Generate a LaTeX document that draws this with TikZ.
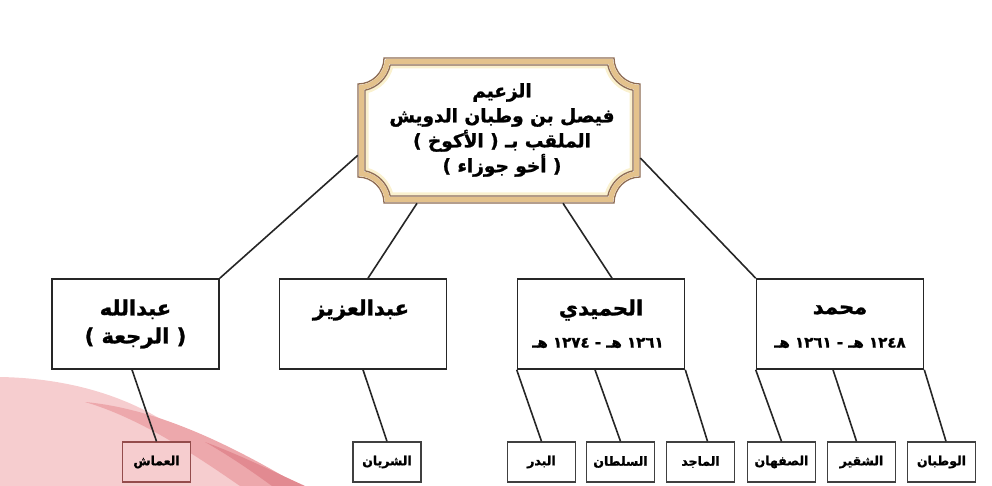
\documentclass[tikz,border=0pt]{standalone}
\usepackage{fontspec}
\newfontfamily\arabicfont[Script=Arabic, BoldFeatures={FakeBold=1.3}]{DejaVu Sans}
\TeXXeTstate=1
\newcommand{\ar}[1]{\beginR #1\endR}
\definecolor{framebrown}{HTML}{8C6A52}
\definecolor{framegold}{HTML}{E4C28C}
\definecolor{frameglow}{HTML}{FAF1CF}
\definecolor{pinklight}{HTML}{F6CDCF}
\definecolor{pinkmid}{HTML}{EDA8AC}
\definecolor{pinkdark}{HTML}{E28A91}

\begin{document}
\begin{tikzpicture}[
        x=1pt, y=-1pt,
        semithick,
        person/.style ={draw=black!85, line width=1.6pt, fill=white, minimum width=167pt, minimum height=90pt, inner sep=0pt},
        branchbox/.style ={draw=black!75, line width=1.3pt, fill=white, minimum width=68pt, minimum height=40pt, inner sep=0pt, font=\arabicfont\bfseries\fontsize{12.5}{14}\selectfont},
        sonname/.style ={font=\arabicfont\bfseries\fontsize{21}{28}\selectfont, align=center, inner sep=0pt},
        dates/.style ={font=\arabicfont\bfseries\fontsize{15}{17}\selectfont, inner sep=0pt},
        link/.style ={draw=black!85, line width=1.6pt},
    ]
    \useasboundingbox (0,0) rectangle (992,486);

    % pink waves in the corner
    \fill[pinklight] (0,377) .. controls (60,378) and (120,392) .. (170,425)
        .. controls (205,448) and (235,468) .. (262,486) -- (0,486) -- cycle;
    \fill[pinkmid] (85,402) .. controls (150,408) and (220,438) .. (300,486)
        -- (240,486) .. controls (195,455) and (140,418) .. (85,402) -- cycle;
    \fill[pinkdark] (205,442) .. controls (240,455) and (270,470) .. (305,486)
        -- (272,486) .. controls (250,470) and (228,455) .. (205,442) -- cycle;

    % the chief
    \node[minimum width=282pt, minimum height=145pt, inner sep=0pt] (chief) at (499,130.5) {};
    \foreach \d/\w/\c in {9/3/frameglow, 0/1.3/framebrown, 3.5/5/framegold, 7/1.3/framebrown} {
        \pgfmathsetmacro\R{26+\d}
        \pgfmathsetmacro\s{sqrt(\R*\R-\d*\d)}
        \pgfmathsetmacro\a{asin(\d/\R)}
        \draw[line width=\w pt, draw=\c] (358+\s,58+\d) -- (640-\s,58+\d)
            arc[start angle=180+\a, end angle=270-\a, radius=\R pt] -- (640-\d,203-\s)
            arc[start angle=90+\a, end angle=180-\a, radius=\R pt] -- (358+\s,203-\d)
            arc[start angle=\a, end angle=90-\a, radius=\R pt] -- (358+\d,58+\s)
            arc[start angle=270+\a, end angle=360-\a, radius=\R pt] -- cycle;
    }
    \node[sonname, font=\arabicfont\bfseries\fontsize{18.5}{25}\selectfont] (chieftext) at (502,130)
        {\ar{الزعيم}\\\ar{فيصل بن وطبان الدويش}\\\ar{الملقب بـ ( الأكوخ )}\\\ar{( أخو جوزاء )}};

    % sons
    \node[person] (abdullah) at (135.5,324) {};
    \node[person] (abdulaziz) at (363,324) {};
    \node[person] (humaidi) at (601,324) {};
    \node[person] (muhammad) at (840,324) {};
    \node[sonname] (abdullahname) at (135.5,324) {\ar{عبدالله}\\\ar{( الرجعة )}};
    \node[sonname] (abdulazizname) at (361,310) {\ar{عبدالعزيز}};
    \node[sonname] (humaidiname) at (601,310) {\ar{الحميدي}};
    \node[dates] (humaididates) at (598,343) {\ar{\beginL ١٢٦١\endL{} هـ - \beginL ١٢٧٤\endL{} هـ}};
    \node[sonname] (muhammadname) at (840,310) {\ar{محمد}};
    \node[dates] (muhammaddates) at (840,343) {\ar{\beginL ١٢٤٨\endL{} هـ - \beginL ١٢٦١\endL{} هـ}};

    % branches
    \node[branchbox, fill=pinklight, draw=black!60!red!70] (ammash) at (156.5,462) {\ar{العماش}};
    \node[branchbox] (shiryan) at (387,462) {\ar{الشريان}};
    \node[branchbox] (badr) at (541.5,462) {\ar{البدر}};
    \node[branchbox] (sultan) at (620.5,462) {\ar{السلطان}};
    \node[branchbox] (majid) at (700.5,462) {\ar{الماجد}};
    \node[branchbox] (safhan) at (781.5,462) {\ar{الصفهان}};
    \node[branchbox] (shaqir) at (861.5,462) {\ar{الشقير}};
    \node[branchbox] (watban) at (941.5,462) {\ar{الوطبان}};

    \path[link] (chief.190) -- (abdullah.north east);
    \path[link] ([xshift=-82pt]chief.south) -- ([xshift=5pt]abdulaziz.north);
    \path[link] ([xshift=64pt]chief.south) -- ([xshift=11pt]humaidi.north);
    \path[link] (chief.-11.8) -- (muhammad.north west);

    \path[link] ([xshift=-3.5pt]abdullah.south) -- (ammash.north);
    \path[link] (abdulaziz.south) -- (shiryan.north);
    \path[link] (humaidi.south west) -- (badr.north);
    \path[link] ([xshift=-6pt]humaidi.south) -- (sultan.north);
    \path[link] (humaidi.south east) -- ([xshift=7pt]majid.north);
    \path[link] (muhammad.south west) -- (safhan.north);
    \path[link] ([xshift=-7pt]muhammad.south) -- ([xshift=-5pt]shaqir.north);
    \path[link] (muhammad.south east) -- ([xshift=4.5pt]watban.north);

\end{tikzpicture}
\end{document}
